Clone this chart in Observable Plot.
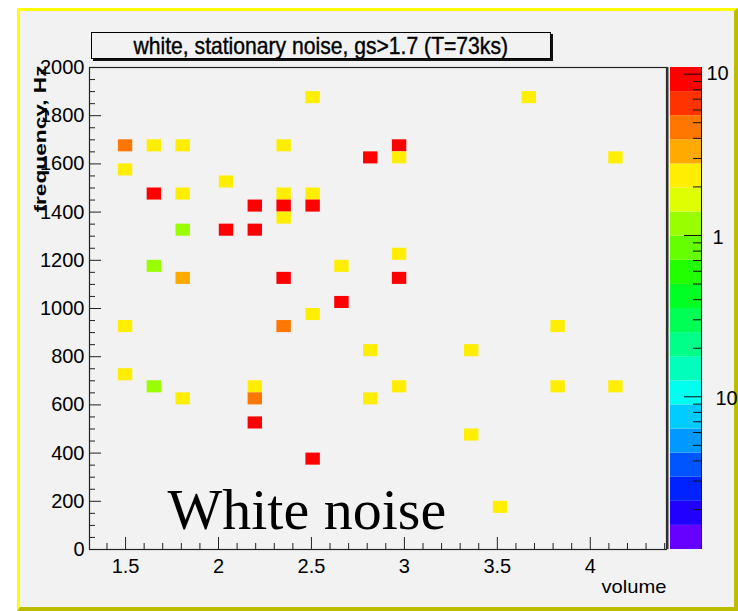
<!DOCTYPE html>
<html><head><meta charset="utf-8">
<script src="https://cdn.jsdelivr.net/npm/d3@7"></script>
<script src="https://cdn.jsdelivr.net/npm/@observablehq/plot@0.6"></script>
<style>
html,body{margin:0;padding:0;background:#fff;}
#wrap{position:relative;width:738px;height:611px;overflow:hidden;}
#panel{position:absolute;left:17px;top:8px;width:721px;height:603px;box-sizing:border-box;background:#f2f2f2;
  border-left:3px solid #ffff00;border-top:3px solid #ffff00;border-right:4px solid #bcbc00;border-bottom:4px solid #bcbc00;}
#title{position:absolute;left:91px;top:32px;width:460px;height:27px;box-sizing:border-box;background:#f2f2f2;
  border:1px solid #000;box-shadow:2px 2px 0 #111;text-align:center;
  font-family:"Liberation Sans",sans-serif;font-size:24px;line-height:25px;color:#000;white-space:nowrap;}
#title span{display:inline-block;transform:scaleX(0.88);transform-origin:center;-webkit-text-stroke:0.4px #000;}
#wrap svg{position:absolute;left:0;top:0;}
</style></head>
<body>
<div id="wrap"><div id="panel"></div><div id="title"><span>white, stationary noise, gs&gt;1.7 (T=73ks)</span></div></div>
<script>
// ---- data ----
const volume = [2.509,3.672, 1.5,1.655,1.81,2.353,2.974, 2.819,2.974,4.138, 1.5, 2.043,
  1.655,1.81,2.353,2.509, 2.198,2.353,2.509, 2.353, 1.81,2.043,2.198, 2.974, 1.655,2.664,
  1.81,2.353,2.974, 2.664, 2.509, 1.5,2.353,3.827, 2.819,3.362, 1.5,
  1.655,2.198,2.974,3.827,4.138, 1.81,2.198,2.819, 2.198, 3.362, 2.509, 3.517];
const frequency = [1875,1875, 1675,1675,1675,1675,1675, 1625,1625,1625, 1575, 1525,
  1475,1475,1475,1475, 1425,1425,1425, 1375, 1325,1325,1325, 1225, 1175,1175,
  1125,1125,1125, 1025, 975, 925,925,925, 825,825, 725,
  675,675,675,675,675, 625,625,625, 525, 475, 375, 175];
const counts = [2,2, 4,2,2,2,10, 10,2,2, 2, 2,
  10,2,2,2, 10,10,10, 2, 1,10,10, 2, 1,2,
  3,10,10, 10, 2, 2,4,2, 2,2, 2,
  1,2,2,2,2, 2,4,2, 10, 2, 10, 2];
const palette = ["#ff0000","#ff3300","#ff7700","#ffaa00","#ffee00","#ddff00","#99ff00","#66ff00","#22ff00","#00ff22",
  "#00ff55","#00ff88","#00ffbb","#00ffee","#00ccff","#0099ff","#0055ff","#0022ff","#2200ff","#6600ff"];
const xTicks = [1.5,2,2.5,3,3.5,4];
const xTickLabels = ["1.5","2","2.5","3","3.5","4"];
const yTicks = [0,200,400,600,800,1000,1200,1400,1600,1800,2000];
const yTickLabels = ["0","200","400","600","800","1000","1200","1400","1600","1800","2000"];
const colorTicks = [10,1,0.1];
const colorTickLabels = ["10","1","10"];

// ---- derived tables ----
const cells = volume.map((v,i)=>({v, f: frequency[i], c: counts[i]}));
const binW = 0.0776, binH = 50;
const cLo = 0.0113, cHi = 11;
const colorCfg = {type:"log", domain:[cLo,cHi],
  interpolate: (t) => palette[19 - Math.max(0, Math.min(19, Math.floor(t*20)))]};
const xMinor = d3.range(14,45).map(k=>k/10).filter(v=>!xTicks.some(t=>Math.abs(t-v)<1e-9));
const yMinor = d3.range(0,2001,50).filter(v=>v%200!==0);
const L = Math.log10(cHi/cLo);
const bands = d3.range(20).map(k=>({
  y1: cLo*Math.pow(10, k*L/20), y2: cLo*Math.pow(10,(k+1)*L/20), mid: cLo*Math.pow(10,(k+0.5)*L/20)}));
const cMinor = [0.01,0.1,1].flatMap(b=>[2,3,4,5,6,7,8,9].map(m=>m*b)).filter(v=>v>cLo&&v<cHi);

const W=738, H=611, mL=89, mR=72, mT=67, mB=62;
const fw = W-mL-mR, fh = H-mT-mB;
const sans = '"Liberation Sans","Helvetica",sans-serif';

const main = Plot.plot({
  width:W, height:H, marginLeft:mL, marginRight:mR, marginTop:mT, marginBottom:mB,
  style:{background:"transparent", fontFamily:sans, fontSize:"20px", color:"#000"},
  x:{domain:[1.306,4.41]}, y:{domain:[0,2000]}, color:colorCfg,
  marks:[
    Plot.rect(cells, {x1:d=>d.v-binW/2, x2:d=>d.v+binW/2, y1:d=>d.f-binH/2, y2:d=>d.f+binH/2, fill:"c"}),
    Plot.ruleX(xMinor, {insetTop: fh-6, stroke:"#222"}),
    Plot.ruleX(xTicks, {insetTop: fh-12, stroke:"#222"}),
    Plot.ruleY(yMinor, {insetRight: fw-6, stroke:"#222"}),
    Plot.ruleY(yTicks, {insetRight: fw-12, stroke:"#222"}),
    Plot.frame({stroke:"#222", strokeWidth:1.2}),
    Plot.ruleX([4.41], {stroke:"#333", strokeWidth:2, dx:1}),
    Plot.axisX(xTicks, {tickSize:0, tickPadding:9, label:null, tickFormat:(d,i)=>xTickLabels[i], fontSize:20}),
    Plot.axisY(yTicks, {tickSize:0, tickPadding:5, label:null, tickFormat:(d,i)=>yTickLabels[i], fontSize:20}),
    Plot.text(["frequency, Hz"], {frameAnchor:"top-left", rotate:-90, textAnchor:"end", dx:-56, dy:-2, fontSize:17, fontFamily:sans}),
    Plot.text(["volume"], {frameAnchor:"bottom-right", textAnchor:"end", lineAnchor:"middle", dy:37, fontSize:19, fontFamily:sans}),
    Plot.text(["White noise"], {frameAnchor:"bottom-left", textAnchor:"start", lineAnchor:"bottom", dx:78, dy:-21,
      fontSize:58, fontFamily:'"Liberation Serif","DejaVu Serif",serif'})
  ]
});
const bar = Plot.plot({
  width:W, height:H, marginLeft:670, marginRight:37, marginTop:mT, marginBottom:mB,
  style:{background:"transparent", fontFamily:sans, fontSize:"20px", color:"#000"},
  x:{domain:[0,1], axis:null}, y:{type:"log", domain:[cLo,cHi], axis:null}, color:colorCfg,
  marks:[
    Plot.rect(bands, {x1:0, x2:1, y1:"y1", y2:"y2", fill:"mid"}),
    Plot.ruleY(cMinor, {insetLeft:23, stroke:"#111"}),
    Plot.ruleY(colorTicks, {insetLeft:14, stroke:"#111"}),
    Plot.ruleX([1], {stroke:"#111"}),
    Plot.text([colorTicks[0]], {y:d=>d, text:()=>colorTickLabels[0], frameAnchor:"right", textAnchor:"start", dx:5, dy:-1, fontSize:20}),
    Plot.text([colorTicks[1]], {y:d=>d, text:()=>colorTickLabels[1], frameAnchor:"right", textAnchor:"start", dx:11, dy:2, fontSize:20}),
    Plot.text([colorTicks[2]], {y:d=>d, text:()=>colorTickLabels[2], frameAnchor:"right", textAnchor:"start", dx:14, dy:2, fontSize:20})
  ]
});
const wrap = document.getElementById("wrap");
wrap.appendChild(main);
wrap.appendChild(bar);
d3.select(main).selectAll("text").filter(function(){return this.textContent==="frequency, Hz";})
  .attr("textLength",147).attr("lengthAdjust","spacingAndGlyphs").style("font-weight","bold");
d3.select(main).selectAll("text").filter(function(){return this.textContent==="volume";})
  .attr("textLength",65).attr("lengthAdjust","spacingAndGlyphs");
</script>
</body></html>
